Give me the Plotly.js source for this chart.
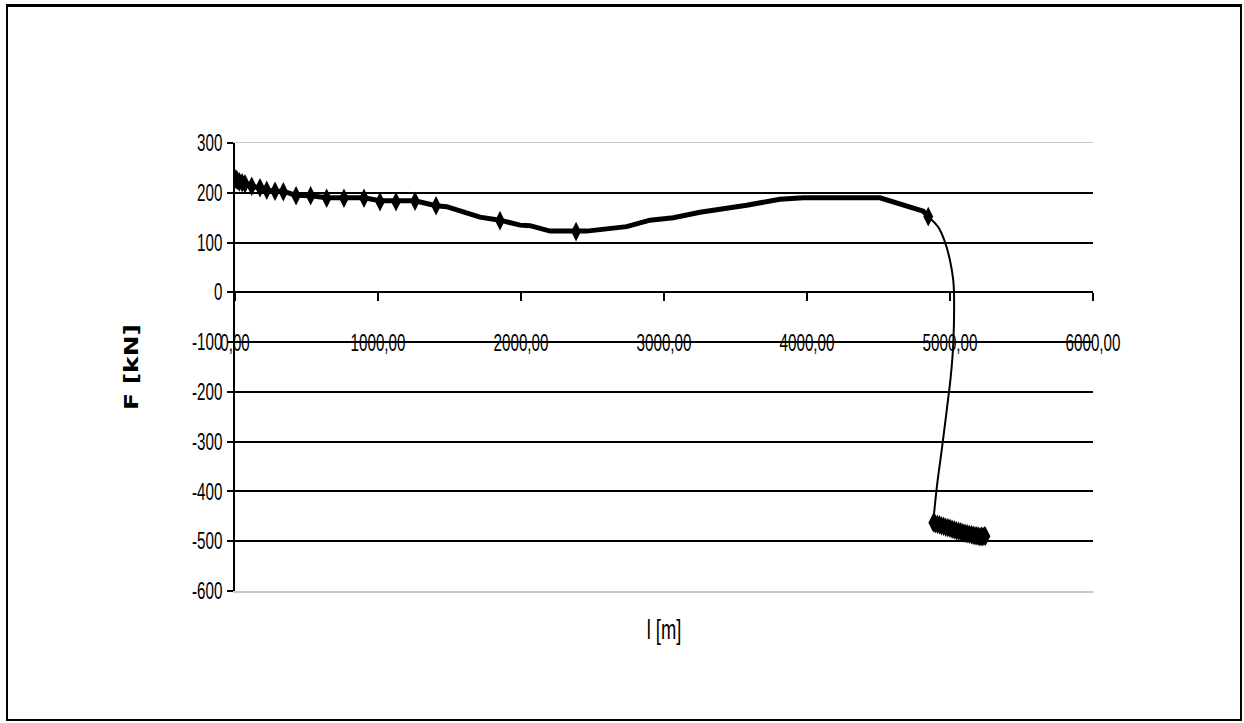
<!DOCTYPE html>
<html><head><meta charset="utf-8">
<script src="https://cdn.plot.ly/plotly-3.0.1.min.js"></script>
<style>
body{margin:0;background:#fff}
#wrap{position:relative;width:1244px;height:723px}
#chart{position:absolute;left:0;top:0;width:1244px;height:723px}
#frame{position:absolute;left:6px;top:4px;width:1236px;height:717px;border:2px solid #000;border-top-width:3px;box-sizing:border-box;pointer-events:none}
</style>
</head><body>
<div id="wrap"><div id="chart"></div><div id="frame"></div></div>
<script>
// Thick line (dense series, no markers)
var mainX = [0, 50, 117, 175, 222, 280, 338, 427, 529, 641, 762, 902, 1014, 1126, 1259, 1406, 1480, 1713, 1853, 1993, 2063, 2203, 2385, 2459, 2739, 2902, 3065, 3252, 3578, 3811, 3974, 4510, 4813, 4848];
var mainY = [225, 220, 213, 210, 205, 203, 203, 195, 194, 190, 190, 190, 184, 184, 184, 174, 172, 151, 145, 135, 134, 123, 123, 123, 132, 145, 150, 161, 175, 187, 190, 190, 163, 152];
// Thin descending curve
var descX = [4848, 4918, 4965, 5000, 5023, 5028, 5023, 5005, 4977, 4942, 4911, 4883];
var descY = [152, 131, 101, 64, 24, -3, -103, -170, -237, -317, -384, -460];
// Marker points
var mkX = [5, 15, 30, 50, 70, 117, 175, 222, 280, 338, 427, 529, 641, 762, 902, 1014, 1126, 1259, 1406, 1853, 2385, 4848,
           4883, 4897, 4912, 4926, 4940, 4955, 4970, 4985, 5000, 5015, 5030, 5045, 5060, 5075, 5090, 5105, 5120, 5135, 5150, 5162, 5175, 5187, 5198, 5210, 5220, 5230, 5240, 5248];
var mkY = [228, 225, 222, 220, 218, 213, 210, 205, 203, 202, 194, 194, 189, 189, 189, 182, 182, 183, 174, 144, 122, 152,
           -463, -465, -466, -467, -469, -470, -472, -473, -474, -476, -477, -479, -480, -481, -483, -484, -485, -486, -487, -488, -489, -489, -490, -491, -490, -491, -489, -490];
// Tick labels
var xTickVals = [0, 1000, 2000, 3000, 4000, 5000, 6000];
var xTickText = ["0,00", "1000,00", "2000,00", "3000,00", "4000,00", "5000,00", "6000,00"];
var yTickVals = [-600, -500, -400, -300, -200, -100, 0, 100, 200, 300];
var yTickText = ["-600", "-500", "-400", "-300", "-200", "-100", "0", "100", "200", "300"];
var yGridVals = [-500, -400, -300, -200, -100, 0, 100, 200];

var sans = '"Liberation Sans", Arial, sans-serif';

var traces = [
  {x: [], y: [], xaxis: 'x2', yaxis: 'y2', type: 'scatter', mode: 'lines', hoverinfo: 'skip', showlegend: false},
  {x: mainX, y: mainY, type: 'scatter', mode: 'lines', line: {color: '#000', width: 5, shape: 'linear'}, hoverinfo: 'skip', showlegend: false},
  {x: descX, y: descY, type: 'scatter', mode: 'lines', line: {color: '#000', width: 2, shape: 'spline'}, hoverinfo: 'skip', showlegend: false},
  {x: mkX, y: mkY, type: 'scatter', mode: 'markers', marker: {symbol: 'diamond-tall', size: 14, color: '#000'}, hoverinfo: 'skip', showlegend: false}
];

var layout = {
  width: 1244, height: 723,
  margin: {l: 235, r: 151, t: 143, b: 132, pad: 0},
  paper_bgcolor: '#fff', plot_bgcolor: '#fff',
  showlegend: false,
  xaxis: {
    range: [0, 6000], anchor: 'free', position: 600/900,
    tickvals: xTickVals, ticktext: xTickText,
    showline: true, linecolor: '#000', linewidth: 2,
    ticks: 'outside', ticklen: 8, tickwidth: 1.5, tickcolor: '#000',
    showgrid: false, zeroline: false,
    ticklabelstandoff: 22,
    tickfont: {family: sans, size: 23, color: '#000'}
  },
  xaxis2: {
    range: [0, 6000], overlaying: 'x', anchor: 'y2', side: 'bottom',
    showline: true, mirror: true, linecolor: '#c8c8c8', linewidth: 1.5,
    showticklabels: false, ticks: '', showgrid: false, zeroline: false,
    title: {text: 'l [m]', standoff: 28, font: {family: sans, size: 27, color: '#000'}}
  },
  yaxis: {
    range: [-600, 300],
    tickvals: yTickVals, ticktext: yTickText,
    showline: true, linecolor: '#000', linewidth: 2,
    ticks: 'outside', ticklen: 6, tickwidth: 2, tickcolor: '#000',
    showgrid: false, zeroline: false,
    tickfont: {family: sans, size: 23, color: '#000'},
    title: {text: 'F [kN]', standoff: 32, font: {family: '"DejaVu Sans", "Liberation Sans", Arial, sans-serif', size: 20, color: '#000', weight: 'bold'}}
  },
  yaxis2: {
    range: [-600, 300], overlaying: 'y', anchor: 'x2', side: 'left',
    tickvals: yGridVals, showticklabels: false, ticks: '',
    showgrid: true, gridcolor: '#000', gridwidth: 2,
    showline: false, zeroline: false
  }
};

function squeeze(sel, factor) {
  document.querySelectorAll(sel).forEach(function (el) {
    var L = el.getComputedTextLength();
    if (L > 0) {
      el.setAttribute('textLength', (L * factor).toFixed(1));
      el.setAttribute('lengthAdjust', 'spacingAndGlyphs');
    }
  });
}

Plotly.newPlot('chart', traces, layout, {staticPlot: true, displayModeBar: false}).then(function () {
  squeeze('#chart .xtick text', 0.66);
  squeeze('#chart .ytick text', 0.66);
  squeeze('#chart .g-x2title text', 0.68);
  document.querySelectorAll('#chart .g-ytitle text').forEach(function (el) {
    el.setAttribute('textLength', '86');
    el.setAttribute('lengthAdjust', 'spacingAndGlyphs');
  });
});
</script>
</body></html>
